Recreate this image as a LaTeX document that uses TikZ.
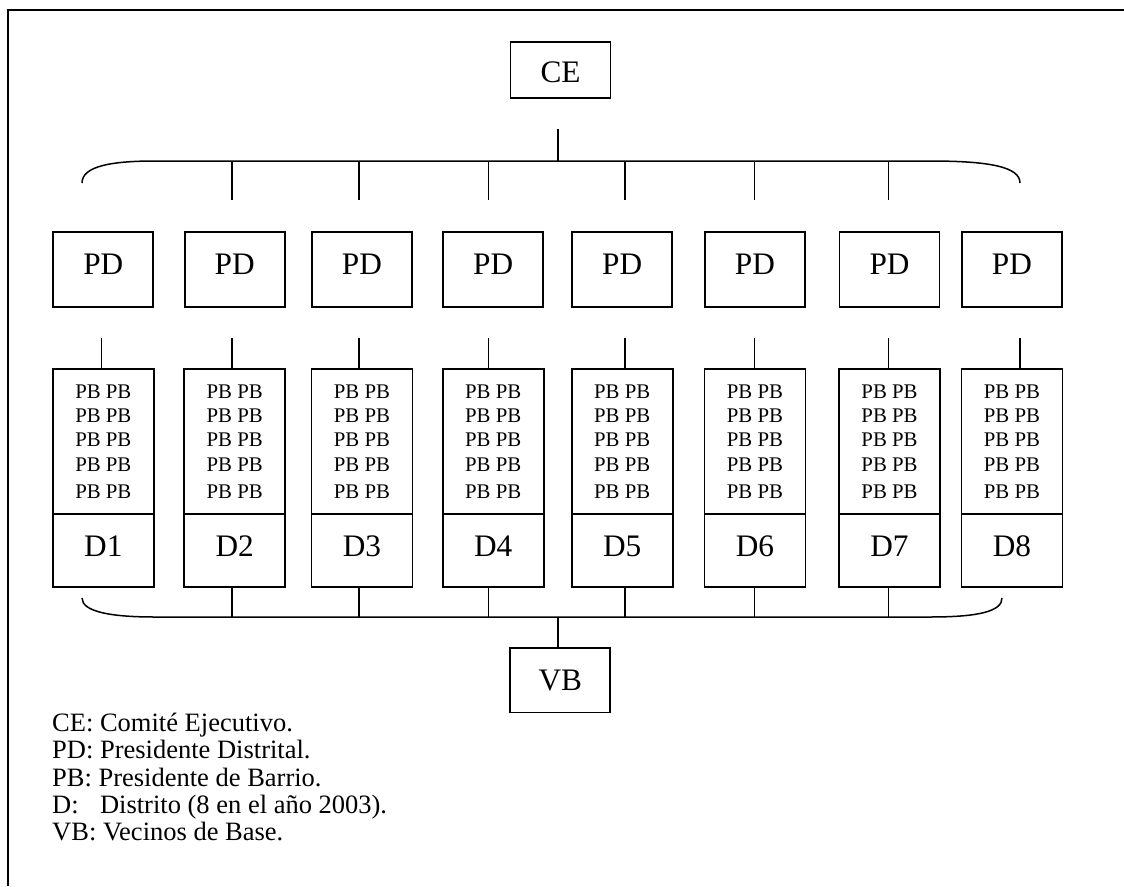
\documentclass[tikz,border=0pt]{standalone}
\usepackage{fontspec}
\setmainfont{Liberation Serif}
\begin{document}
\begin{tikzpicture}[x=1pt,y=-1pt]
\tikzset{
  box/.style={draw, line width=1.7pt, inner sep=0pt, minimum width=100pt,
              font=\fontsize{31.3}{36}\selectfont, text height=20.7pt},
  pbbox/.style={draw, line width=1.7pt, inner sep=0pt, minimum width=101pt,
                minimum height=145.3pt, align=center,
                font=\fontsize{20.8}{24.3}\selectfont},
  conn/.style={line width=1.5pt},
  frameline/.style={line width=2pt},
  legend/.style={anchor=base west, inner sep=0pt, font=\fontsize{26.5}{28}\selectfont},
}
\useasboundingbox (0,0) rectangle (1124,886);
% frame
\coordinate (fbl) at (8,886);
\coordinate (ftl) at (8,10);
\coordinate (ftr) at (1130,10);
\draw[frameline] (fbl) -- (ftl) -- (ftr);

% top and bottom nodes
\node[box, minimum height=55.4pt, text depth=0pt, text height=25.1pt] (ce) at (560.5,70) {CE};
\node[box, minimum height=64.3pt, text depth=0pt] (vb) at (560.3,680.2) {VB};

% columns
\foreach \i/\cx/\sx in {1/103.3/101.7, 2/234.7/232, 3/361.9/359, 4/493.2/488.3,
                        5/622.2/625, 6/754.9/754.3, 7/889.5/888.3, 8/1011.9/1020}{
  \node[box, minimum height=75pt, text depth=11.6pt] (pd\i) at (\cx,269.5) {PD};
  \node[pbbox] (pb\i) at (\cx,441.7) {PB PB\\PB PB\\PB PB\\PB PB\\[3.4pt]PB PB};
  \node[box, minimum width=101pt, minimum height=72.4pt, text depth=9.4pt] (d\i) at (\cx,550.5) {D\i};
  \coordinate (s\i) at (\sx,338);
  \draw[conn] (s\i) -- (s\i |- pb\i.north);
}

% top bracket
\coordinate (tL) at (82,183);
\coordinate (tR) at (1020,183);
\coordinate (ctop) at (558,129);
\coordinate (cbr) at (558,161);
\draw[conn] (tL) .. controls (82,166) and (112,161) .. (155,161) -- (930,161)
            .. controls (990,161) and (1020,167) .. (tR);
\draw[conn] (ctop) -- (cbr);

% bottom bracket
\coordinate (bL) at (82,598);
\coordinate (bR) at (1002,598);
\coordinate (vbt) at (558,617);
\draw[conn] (bL) .. controls (82,612) and (112,617) .. (155,617) -- (930,617)
            .. controls (980,617) and (1002,611) .. (bR);
\draw[conn] (vbt) -- (vbt |- vb.north);

\foreach \i/\sx in {2/232, 3/359, 4/488.3, 5/625, 6/754.3, 7/888.3}{
  \coordinate (ta\i) at (\sx,161);
  \coordinate (tb\i) at (\sx,199.7);
  \draw[conn] (ta\i) -- (tb\i);
  \coordinate (bb\i) at (\sx,617);
  \draw[conn] (bb\i |- d\i.south) -- (bb\i);
}

% legend
\node[legend] (l1) at (52,731.5) {CE: Comité Ejecutivo.};
\node[legend] (l2) at (52,758.8) {PD: Presidente Distrital.};
\node[legend] (l3) at (52,786.1) {PB: Presidente de Barrio.};
\node[legend] (l4) at (52,813.4) {\rlap{D:}\phantom{PD: }Distrito (8 en el año 2003).};
\node[legend] (l5) at (52,840.7) {VB: Vecinos de Base.};
\end{tikzpicture}
\end{document}
